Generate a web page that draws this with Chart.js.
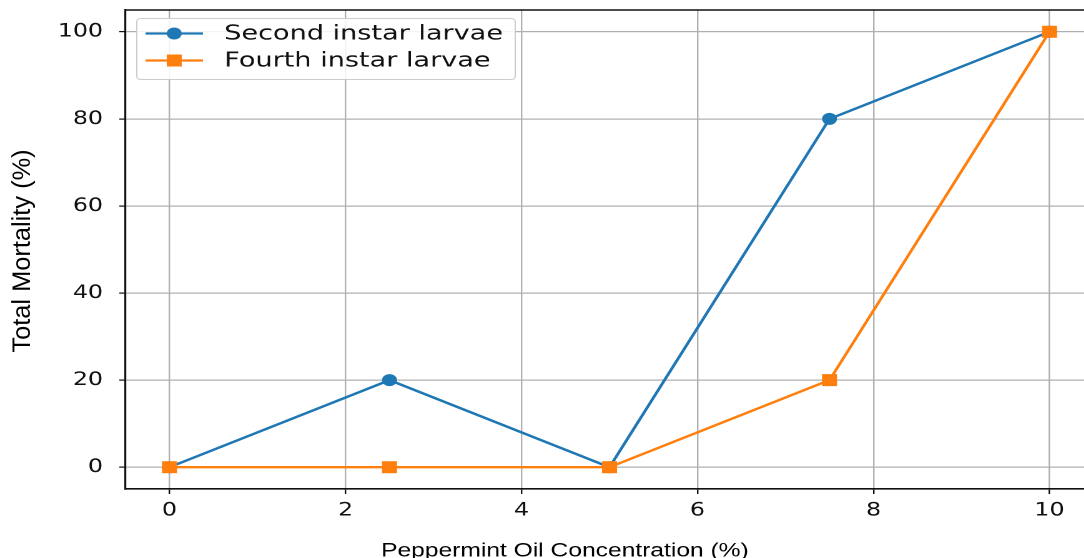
<!DOCTYPE html>
<html>
<head>
<meta charset="utf-8">
<script src="https://cdn.jsdelivr.net/npm/chart.js@4/dist/chart.umd.min.js"></script>
<style>
  html, body { margin: 0; padding: 0; background: #fff; overflow: hidden; }
  #outer { width: 1084px; height: 558px; overflow: hidden; position: relative; }
  #wrap { width: 884px; height: 558px; transform: scaleX(1.249); transform-origin: 0 0; position: absolute; left: 0; top: 0; }
</style>
</head>
<body>
<div id="outer"><div id="wrap"><canvas id="c" width="884" height="558"></canvas></div></div>
<script>
const concentrations = [0, 2.5, 5, 7.5, 10];
const secondInstar = [0, 20, 0, 80, 100];
const fourthInstar = [0, 0, 0, 20, 100];
const seriesNames = ['Second instar larvae', 'Fourth instar larvae'];
const xTicks = [0, 2, 4, 6, 8, 10];
const yTicks = [0, 20, 40, 60, 80, 100];
const xTitle = 'Peppermint Oil Concentration (%)';
const yTitle = 'Total Mortality (%)';

const BLUE = '#1f77b4', ORANGE = '#ff7f0e';
const tickFont = { family: 'DejaVu Sans', size: 19 };

const toPoints = (xs, ys) => xs.map((x, i) => ({ x: x, y: ys[i] }));

const framePlugin = {
  id: 'frame',
  beforeDatasetsDraw(chart) {
    const { ctx, chartArea: a } = chart;
    ctx.save();
    ctx.strokeStyle = '#111';
    ctx.lineWidth = 1.6;
    ctx.beginPath();
    ctx.moveTo(a.left, a.top);
    ctx.lineTo(a.right, a.top);
    ctx.lineTo(a.right, a.bottom);
    ctx.stroke();
    ctx.restore();
  },
  afterDraw(chart) {
    const { ctx, chartArea: a } = chart;
    const xs = chart.scales.x;
    ctx.save();
    ctx.fillStyle = '#000';
    ctx.font = '19.7px "Liberation Sans", Arial, sans-serif';
    ctx.textAlign = 'center';
    ctx.textBaseline = 'alphabetic';
    ctx.fillText(xTitle, xs.getPixelForValue(4.5) - 0.5, 556.5);
    ctx.save();
    ctx.translate(18.4, (a.top + a.bottom) / 2 + 1.5);
    ctx.rotate(-Math.PI / 2);
    ctx.scale(1.27, 1);
    ctx.textBaseline = 'middle';
    ctx.font = '20px "Liberation Sans", Arial, sans-serif';
    ctx.fillText(yTitle, 0, 0);
    ctx.restore();

    // legend
    const bx = a.left + 9, by = a.top + 8.5, bw = 303, bh = 61;
    ctx.beginPath();
    ctx.roundRect(bx, by, bw, bh, 3);
    ctx.fillStyle = 'rgba(255,255,255,0.85)';
    ctx.fill();
    ctx.strokeStyle = '#cccccc';
    ctx.lineWidth = 1;
    ctx.stroke();
    const rows = [by + 15, by + 42];
    chart.data.datasets.forEach((ds, i) => {
      const y = rows[i];
      ctx.strokeStyle = ds.borderColor;
      ctx.lineWidth = 2.3;
      ctx.beginPath();
      ctx.moveTo(bx + 7, y);
      ctx.lineTo(bx + 53, y);
      ctx.stroke();
      ctx.fillStyle = ds.backgroundColor;
      if (ds.pointStyle === 'rect') {
        ctx.fillRect(bx + 30 - 6, y - 6, 12, 12);
      } else {
        ctx.beginPath();
        ctx.arc(bx + 30, y, 6, 0, Math.PI * 2);
        ctx.fill();
      }
      ctx.fillStyle = '#111';
      ctx.font = '20px "DejaVu Sans"';
      ctx.textAlign = 'left';
      ctx.textBaseline = 'middle';
      ctx.save();
      ctx.translate(bx + 70, y + 1);
      ctx.scale(1.085, 1);
      ctx.fillText(ds.label, 0, 0);
      ctx.restore();
    });
    ctx.restore();
  }
};

new Chart(document.getElementById('c'), {
  type: 'line',
  data: {
    datasets: [
      {
        label: seriesNames[0],
        data: toPoints(concentrations, secondInstar),
        borderColor: BLUE, backgroundColor: BLUE,
        borderWidth: 2.4, pointStyle: 'circle', pointRadius: 6,
        pointBorderWidth: 0, order: 1, tension: 0
      },
      {
        label: seriesNames[1],
        data: toPoints(concentrations, fourthInstar),
        borderColor: ORANGE, backgroundColor: ORANGE,
        borderWidth: 2.4, pointStyle: 'rect', pointRadius: 8.5,
        pointBorderWidth: 0, order: 0, tension: 0
      }
    ]
  },
  options: {
    responsive: false,
    animation: false,
    devicePixelRatio: 2,
    layout: { padding: { top: 10, left: 0, right: 0, bottom: 0 } },
    plugins: { legend: { display: false }, tooltip: { enabled: false }, title: { display: false } },
    scales: {
      x: {
        type: 'linear', min: -0.5, max: 10.5,
        afterBuildTicks: s => { s.ticks = xTicks.map(v => ({ value: v })); },
        afterFit: s => { s.height = 69; s.paddingLeft = 0; s.paddingRight = 0; },
        grid: { color: '#b0b0b0', lineWidth: 1.2, tickColor: '#111', tickLength: 5, tickWidth: 1.2 },
        border: { display: true, color: '#111', width: 1.6 },
        ticks: { font: tickFont, color: '#111', padding: 5, maxRotation: 0, autoSkip: false }
      },
      y: {
        type: 'linear', min: -5, max: 105,
        afterBuildTicks: s => { s.ticks = yTicks.map(v => ({ value: v })); },
        afterFit: s => { s.width = 100.5; s.paddingTop = 0; s.paddingBottom = 0; },
        grid: { color: '#b0b0b0', lineWidth: 1.2, tickColor: '#111', tickLength: 5, tickWidth: 1.2 },
        border: { display: true, color: '#111', width: 1.6 },
        ticks: { font: tickFont, color: '#111', padding: 13, autoSkip: false }
      }
    }
  },
  plugins: [framePlugin]
});
</script>
</body>
</html>
